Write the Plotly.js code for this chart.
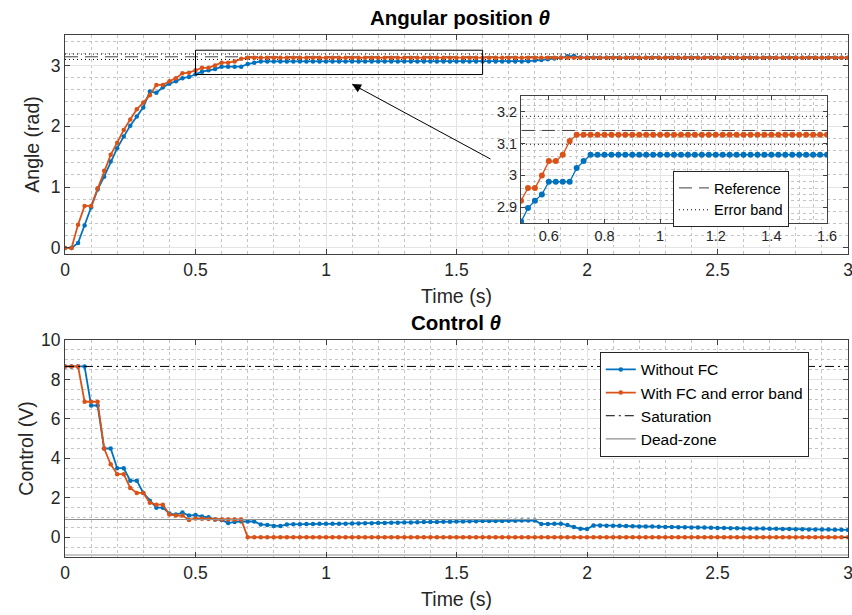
<!DOCTYPE html>
<html>
<head>
<meta charset="utf-8">
<script src="https://cdn.plot.ly/plotly-3.0.1.min.js"></script>
<style>html,body{margin:0;padding:0;background:#fff;}#chart{width:852px;height:615px;}</style>
</head>
<body>
<div id="chart"></div>
<script>
// Sample instants (s)
const time = [
  0,0.025,0.05,0.075,0.1,0.125,0.15,0.175,
  0.2,0.225,0.25,0.275,0.3,0.325,0.35,0.375,
  0.4,0.425,0.45,0.475,0.5,0.525,0.55,0.575,
  0.6,0.625,0.65,0.675,0.7,0.725,0.75,0.775,
  0.8,0.825,0.85,0.875,0.9,0.925,0.95,0.975,
  1.0,1.025,1.05,1.075,1.1,1.125,1.15,1.175,
  1.2,1.225,1.25,1.275,1.3,1.325,1.35,1.375,
  1.4,1.425,1.45,1.475,1.5,1.525,1.55,1.575,
  1.6,1.625,1.65,1.675,1.7,1.725,1.75,1.775,
  1.8,1.825,1.85,1.875,1.9,1.925,1.95,1.975,
  2.0,2.025,2.05,2.075,2.1,2.125,2.15,2.175,
  2.2,2.225,2.25,2.275,2.3,2.325,2.35,2.375,
  2.4,2.425,2.45,2.475,2.5,2.525,2.55,2.575,
  2.6,2.625,2.65,2.675,2.7,2.725,2.75,2.775,
  2.8,2.825,2.85,2.875,2.9,2.925,2.95,2.975,
  3.0
];
// Angular position, without FC (rad)
const angleWithoutFC = [
  0,0,0.08,0.37,0.67,0.96,1.17,1.42,
  1.64,1.83,2.01,2.16,2.31,2.57,2.55,2.64,
  2.70,2.74,2.79,2.81,2.855,2.897,2.92,2.94,
  2.98,2.98,2.98,2.98,3.023,3.045,3.065,3.065,
  3.065,3.065,3.065,3.065,3.065,3.065,3.065,3.065,
  3.065,3.065,3.065,3.065,3.065,3.065,3.065,3.065,
  3.065,3.065,3.065,3.065,3.065,3.065,3.065,3.065,
  3.065,3.065,3.065,3.065,3.065,3.065,3.065,3.065,
  3.065,3.065,3.065,3.065,3.065,3.065,3.065,3.07,
  3.08,3.09,3.10,3.115,3.125,3.15,3.155,3.13,
  3.128,3.128,3.128,3.128,3.128,3.128,3.128,3.128,
  3.128,3.128,3.128,3.128,3.128,3.128,3.128,3.128,
  3.128,3.128,3.128,3.128,3.128,3.128,3.128,3.128,
  3.128,3.128,3.128,3.128,3.128,3.128,3.128,3.128,
  3.128,3.128,3.128,3.128,3.128,3.128,3.128,3.128,
  3.128
];
// Angular position, with FC and error band (rad)
const angleWithFC = [
  0,0,0.38,0.69,0.69,0.98,1.27,1.53,
  1.73,1.94,2.11,2.28,2.39,2.51,2.68,2.68,
  2.74,2.79,2.87,2.88,2.92,2.96,2.96,3.00,
  3.045,3.045,3.065,3.108,3.128,3.128,3.128,3.128,
  3.128,3.128,3.128,3.128,3.128,3.128,3.128,3.128,
  3.128,3.128,3.128,3.128,3.128,3.128,3.128,3.128,
  3.128,3.128,3.128,3.128,3.128,3.128,3.128,3.128,
  3.128,3.128,3.128,3.128,3.128,3.128,3.128,3.128,
  3.128,3.128,3.128,3.128,3.128,3.128,3.128,3.128,
  3.128,3.128,3.128,3.128,3.128,3.128,3.128,3.128,
  3.128,3.128,3.128,3.128,3.128,3.128,3.128,3.128,
  3.128,3.128,3.128,3.128,3.128,3.128,3.128,3.128,
  3.128,3.128,3.128,3.128,3.128,3.128,3.128,3.128,
  3.128,3.128,3.128,3.128,3.128,3.128,3.128,3.128,
  3.128,3.128,3.128,3.128,3.128,3.128,3.128,3.128,
  3.128
];
// Control signal, without FC (V)
const controlWithoutFC = [
  8.66,8.66,8.66,8.66,6.68,6.68,4.5,4.5,
  3.5,3.5,2.87,2.87,2.25,1.85,1.5,1.5,
  1.2,1.15,1.25,1.1,1.13,1.05,1.02,0.9,
  0.88,0.72,0.78,0.8,0.8,0.8,0.65,0.62,
  0.57,0.57,0.65,0.66,0.66,0.67,0.67,0.68,
  0.68,0.68,0.69,0.69,0.70,0.70,0.71,0.71,
  0.72,0.72,0.73,0.74,0.75,0.75,0.76,0.77,
  0.78,0.78,0.79,0.79,0.80,0.80,0.81,0.81,
  0.82,0.82,0.83,0.83,0.84,0.84,0.85,0.85,
  0.85,0.67,0.67,0.68,0.69,0.62,0.52,0.43,
  0.42,0.60,0.60,0.59,0.58,0.58,0.57,0.56,
  0.55,0.55,0.54,0.53,0.52,0.52,0.51,0.51,
  0.50,0.49,0.49,0.48,0.47,0.47,0.46,0.46,
  0.45,0.45,0.44,0.44,0.43,0.43,0.42,0.42,
  0.41,0.41,0.40,0.40,0.39,0.39,0.38,0.38,
  0.37
];
// Control signal, with FC and error band (V)
const controlWithFC = [
  8.66,8.66,8.66,6.87,6.87,6.87,4.5,3.7,
  3.2,3.2,2.5,2.25,2.25,1.75,1.65,1.65,
  1.15,1.1,1.1,0.88,0.95,0.94,0.92,0.9,
  0.9,0.9,0.9,0.9,0,0,0,0,
  0,0,0,0,0,0,0,0,
  0,0,0,0,0,0,0,0,
  0,0,0,0,0,0,0,0,
  0,0,0,0,0,0,0,0,
  0,0,0,0,0,0,0,0,
  0,0,0,0,0,0,0,0,
  0,0,0,0,0,0,0,0,
  0,0,0,0,0,0,0,0,
  0,0,0,0,0,0,0,0,
  0,0,0,0,0,0,0,0,
  0,0,0,0,0,0,0,0,
  0
];
// Tick labels
const timeTicks = [0, 0.5, 1, 1.5, 2, 2.5, 3];
const timeTickText = ['0', '0.5', '1', '1.5', '2', '2.5', '3'];
const insetTimeTicks = [0.6, 0.8, 1, 1.2, 1.4, 1.6];
const insetTimeTickText = ['0.6', '0.8', '1', '1.2', '1.4', '1.6'];
// Reference, error band, saturation and dead-zone levels
const timeSpan = [0, 3];
const reference = 3.1416;
const errorBandUpper = 3.186;
const errorBandLower = 3.098;
const saturation = 8.66;
const deadZoneUpper = 0.9;
const deadZoneLower = -0.9;

const BLUE = '#0072BD', RED = '#D95319';
const FONT = 'Liberation Sans, Arial, Helvetica, sans-serif';
const TXT = '#262626';

function hline(v, xa, ya, style, extra) {
  return Object.assign({
    x: timeSpan, y: [v, v], xaxis: xa, yaxis: ya, mode: 'lines',
    line: style, hoverinfo: 'skip', showlegend: false
  }, extra || {});
}
const refStyle = {color: '#404040', width: 1, dash: '13px,7px'};
const bandStyle = {color: '#000000', width: 1, dash: '1px,3px'};
const satStyle = {color: '#000000', width: 1, dash: '9px,4px,2px,4px'};
const dzStyle = {color: '#8f8f8f', width: 1.2};

const traces = [
  // top plot
  hline(errorBandUpper, 'x', 'y', bandStyle),
  hline(errorBandLower, 'x', 'y', bandStyle),
  hline(reference, 'x', 'y', refStyle),
  {x: time, y: angleWithoutFC, xaxis: 'x', yaxis: 'y', mode: 'lines+markers',
   line: {color: BLUE, width: 1.8}, marker: {color: BLUE, size: 4.5}, showlegend: false},
  {x: time, y: angleWithFC, xaxis: 'x', yaxis: 'y', mode: 'lines+markers',
   line: {color: RED, width: 1.8}, marker: {color: RED, size: 4.5}, showlegend: false},
  // inset
  {x: time, y: angleWithoutFC, xaxis: 'x3', yaxis: 'y3', mode: 'lines+markers',
   line: {color: BLUE, width: 1.3}, marker: {color: BLUE, size: 6}, showlegend: false},
  {x: time, y: angleWithFC, xaxis: 'x3', yaxis: 'y3', mode: 'lines+markers',
   line: {color: RED, width: 1.3}, marker: {color: RED, size: 6}, showlegend: false},
  hline(reference, 'x3', 'y3', refStyle, {name: 'Reference', showlegend: true, legend: 'legend2'}),
  hline(errorBandUpper, 'x3', 'y3', bandStyle, {name: 'Error band', showlegend: true, legend: 'legend2'}),
  hline(errorBandLower, 'x3', 'y3', bandStyle),
  // bottom plot
  {x: time, y: controlWithoutFC, xaxis: 'x2', yaxis: 'y2', mode: 'lines+markers', name: 'Without FC',
   line: {color: BLUE, width: 1.8}, marker: {color: BLUE, size: 4.5}, legend: 'legend'},
  {x: time, y: controlWithFC, xaxis: 'x2', yaxis: 'y2', mode: 'lines+markers', name: 'With FC and error band',
   line: {color: RED, width: 1.8}, marker: {color: RED, size: 4.5}, legend: 'legend'},
  hline(saturation, 'x2', 'y2', satStyle, {name: 'Saturation', showlegend: true, legend: 'legend'}),
  hline(deadZoneUpper, 'x2', 'y2', dzStyle, {name: 'Dead-zone', showlegend: true, legend: 'legend'}),
  hline(deadZoneLower, 'x2', 'y2', dzStyle)
];

function axisBase(extra) {
  return Object.assign({
    showline: true, linecolor: '#404040', linewidth: 1, mirror: 'ticks',
    ticks: 'inside', ticklen: 5, tickcolor: '#404040',
    showgrid: true, gridcolor: '#e4e4e4', gridwidth: 1,
    zeroline: false, tickfont: {family: FONT, size: 17.5, color: TXT},
    ticklabeloverflow: 'allow', automargin: false
  }, extra);
}
const minorX = {dtick: 0.1, tick0: 0, showgrid: true, gridcolor: '#c4c4c4', griddash: 'dot', gridwidth: 1, ticks: ''};
const TITLEFONT = {family: FONT, size: 19.5, color: TXT};

const layout = {
  width: 852, height: 615,
  margin: {l: 65, r: 4, t: 35, b: 58},
  paper_bgcolor: '#ffffff', plot_bgcolor: '#ffffff',
  font: {family: FONT, color: TXT},
  xaxis: axisBase({domain: [0, 1], anchor: 'y', range: [0, 3], tickmode: 'array', tickvals: timeTicks, ticktext: timeTickText, minor: minorX,
    title: {text: 'Time (s)', font: TITLEFONT, standoff: 10}}),
  yaxis: axisBase({domain: [0.5805, 1], anchor: 'x', range: [-0.1, 3.5], tick0: 0, dtick: 1,
    minor: {dtick: 0.2, tick0: 0, showgrid: true, gridcolor: '#c4c4c4', griddash: 'dot', ticks: ''},
    title: {text: 'Angle (rad)', font: TITLEFONT, standoff: 5}}),
  xaxis2: axisBase({domain: [0, 1], anchor: 'y2', range: [0, 3], tickmode: 'array', tickvals: timeTicks, ticktext: timeTickText, minor: minorX,
    title: {text: 'Time (s)', font: TITLEFONT, standoff: 10}}),
  yaxis2: axisBase({domain: [0, 0.4157], anchor: 'x2', range: [-1, 10], tick0: 0, dtick: 2,
    minor: {dtick: 0.5, tick0: 0, showgrid: true, gridcolor: '#c4c4c4', griddash: 'dot', ticks: ''},
    title: {text: 'Control (V)', font: TITLEFONT, standoff: 2}}),
  xaxis3: axisBase({domain: [0.5824, 0.9732], anchor: 'y3', range: [0.5, 1.6], tickmode: 'array', tickvals: insetTimeTicks, ticktext: insetTimeTickText,
    tickfont: {family: FONT, size: 14.5, color: TXT}, ticklen: 4,
    minor: {dtick: 0.05, tick0: 0, showgrid: true, gridcolor: '#c4c4c4', griddash: 'dot', ticks: ''}}),
  yaxis3: axisBase({domain: [0.6398, 0.8831], anchor: 'x3', range: [2.85, 3.25], tick0: 0, dtick: 0.1,
    tickfont: {family: FONT, size: 14.5, color: TXT}, ticklen: 4,
    minor: {dtick: 0.02, tick0: 0, showgrid: true, gridcolor: '#c4c4c4', griddash: 'dot', ticks: ''}}),
  legend: {x: 0.683, y: 0.393, xanchor: 'left', yanchor: 'top', bgcolor: '#ffffff',
    bordercolor: '#262626', borderwidth: 1, font: {family: FONT, size: 15.5, color: '#000'},
    tracegroupgap: 0},
  legend2: {x: 0.7765, y: 0.7395, xanchor: 'left', yanchor: 'top', bgcolor: '#ffffff',
    bordercolor: '#262626', borderwidth: 1, font: {family: FONT, size: 14.5, color: '#000'}},
  shapes: [
    {type: 'rect', xref: 'x', yref: 'y', x0: 0.5, x1: 1.6, y0: 2.85, y1: 3.25,
     line: {color: '#000', width: 1}, fillcolor: 'rgba(0,0,0,0)', layer: 'above'}
  ],
  annotations: [
    {xref: 'paper', yref: 'paper', x: 0.505, y: 1.0326, xanchor: 'center', yanchor: 'middle',
     text: '<b>Angular position <i>θ</i></b>', showarrow: false, font: {family: FONT, size: 20.5, color: '#000'}},
    {xref: 'paper', yref: 'paper', x: 0.5, y: 0.450, xanchor: 'center', yanchor: 'middle',
     text: '<b>Control <i>θ</i></b>', showarrow: false, font: {family: FONT, size: 20.5, color: '#000'}},
    {xref: 'x', yref: 'y', x: 1.0996, y: 2.693, axref: 'x', ayref: 'y', ax: 1.636, ay: 1.448,
     text: '', showarrow: true, arrowhead: 2, arrowsize: 1.8, arrowwidth: 1, arrowcolor: '#000'}
  ],
  showlegend: true
};

Plotly.newPlot('chart', traces, layout, {displayModeBar: false, staticPlot: true});
</script>
</body>
</html>
